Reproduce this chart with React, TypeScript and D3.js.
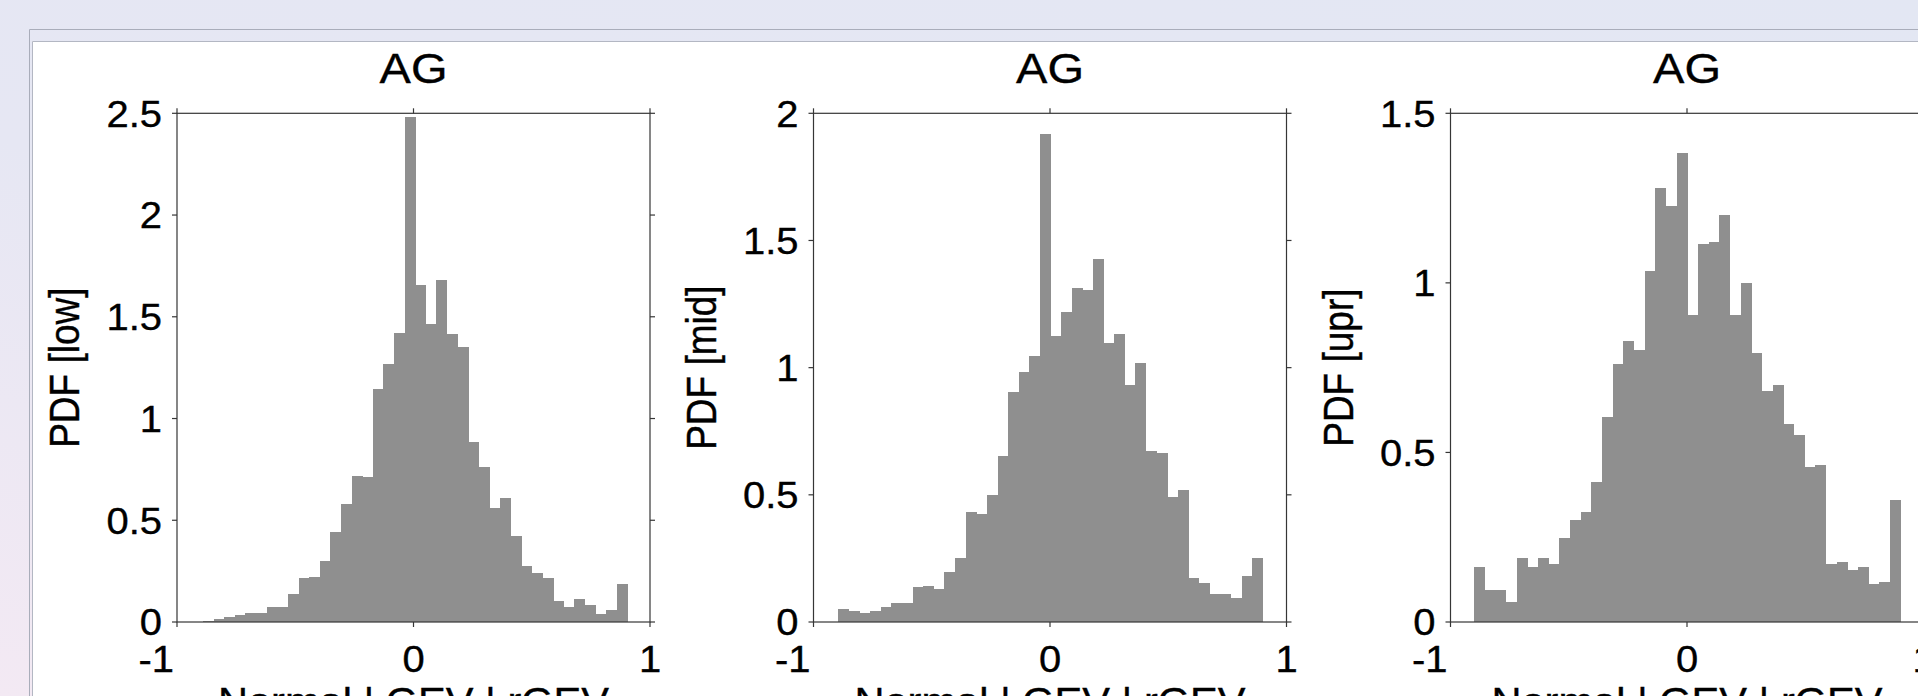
import React from "react";
import * as d3 from "d3";

// ---------- data ----------
const TITLES = ["AG", "AG", "AG"];
const Y_LABELS = ["PDF [low]", "PDF [mid]", "PDF [upr]"];
const X_LABEL = "Normal | GEV | rGEV";
const X_TICKS = [-1, 0, 1];
const Y_TICKS_LOW = [0, 0.5, 1, 1.5, 2, 2.5];
const Y_TICKS_MID = [0, 0.5, 1, 1.5, 2];
const Y_TICKS_UPR = [0, 0.5, 1, 1.5];
const Y_MAX = [2.5, 2, 1.5];
// histogram bin range (first edge, last edge) per panel, 40 bins each
const BIN_RANGE_LOW = [-0.89, 0.905];
const BIN_RANGE_MID = [-0.895, 0.9];
const BIN_RANGE_UPR = [-0.9, 0.904];

const PDF_LOW = [
  0.005, 0.014, 0.026, 0.033, 0.042, 0.042, 0.075, 0.075, 0.139, 0.216,
  0.223, 0.298, 0.44, 0.579, 0.718, 0.711, 1.144, 1.267, 1.421, 2.482,
  1.658, 1.465, 1.682, 1.414, 1.353, 0.884, 0.761, 0.558, 0.607, 0.425,
  0.277, 0.242, 0.216, 0.102, 0.075, 0.112, 0.084, 0.04, 0.06, 0.188,
];
const PDF_MID = [
  0.052, 0.042, 0.034, 0.042, 0.058, 0.076, 0.076, 0.139, 0.143, 0.129,
  0.197, 0.251, 0.431, 0.424, 0.501, 0.654, 0.905, 0.982, 1.046, 1.919,
  1.123, 1.218, 1.314, 1.305, 1.426, 1.098, 1.131, 0.933, 1.02, 0.674,
  0.664, 0.491, 0.519, 0.173, 0.154, 0.111, 0.111, 0.095, 0.181, 0.251,
];
const PDF_UPR = [
  0.163, 0.094, 0.094, 0.059, 0.189, 0.163, 0.189, 0.171, 0.249, 0.3,
  0.325, 0.414, 0.604, 0.76, 0.829, 0.802, 1.036, 1.279, 1.226, 1.382,
  0.906, 1.115, 1.121, 1.201, 0.906, 1.0, 0.794, 0.68, 0.699, 0.585,
  0.551, 0.456, 0.464, 0.171, 0.178, 0.154, 0.163, 0.111, 0.119, 0.36,
];

const SERIES = [PDF_LOW, PDF_MID, PDF_UPR];
const Y_TICKS = [Y_TICKS_LOW, Y_TICKS_MID, Y_TICKS_UPR];
const BIN_RANGES = [BIN_RANGE_LOW, BIN_RANGE_MID, BIN_RANGE_UPR];

// ---------- layout ----------
const W = 1918;
const H = 696;
const PANEL_LEFTS = [177, 813.5, 1450.5];
const PANEL_W = 473;
const TOP = 113.3;
const BOTTOM = 622;
const FONT = "'Liberation Sans', Arial, Helvetica, sans-serif";
const AXIS_COLOR = "#363636";
const BAR_COLOR = "#8f8f8f";
const TICK = 5;

function SText({ x, y, sx = 1.08, rotate = 0, anchor = "middle", size, children }) {
  return (
    <g transform={`translate(${x},${y}) scale(${sx},1) rotate(${rotate})`}>
      <text
        x={0}
        y={0}
        textAnchor={anchor}
        fontFamily={FONT}
        fontSize={size}
        fill="#000"
        stroke="#000"
        strokeWidth={0.35}
      >
        {children}
      </text>
    </g>
  );
}

function fmt(v) {
  return String(v);
}

function Panel({ idx }) {
  const left = PANEL_LEFTS[idx];
  const right = left + PANEL_W;
  const x = d3.scaleLinear().domain([-1, 1]).range([left, right]);
  const y = d3.scaleLinear().domain([0, Y_MAX[idx]]).range([BOTTOM, TOP]);
  const values = SERIES[idx];
  const [b0, b1] = BIN_RANGES[idx];
  const bw = (b1 - b0) / values.length;
  const cx = (left + right) / 2;
  const cy = (TOP + BOTTOM) / 2;

  return (
    <g>
      {/* bars */}
      <g shapeRendering="crispEdges">
        {values.map((v, i) => {
          const x0 = x(b0 + i * bw);
          const x1 = x(b0 + (i + 1) * bw);
          return (
            <rect
              key={i}
              x={x0}
              y={y(v)}
              width={x1 - x0 + 0.3}
              height={BOTTOM - y(v)}
              fill={BAR_COLOR}
            />
          );
        })}
      </g>
      {/* box */}
      <rect
        x={left}
        y={TOP}
        width={right - left}
        height={BOTTOM - TOP}
        fill="none"
        stroke={AXIS_COLOR}
        strokeWidth={1.2}
      />
      {/* y ticks both sides, outward */}
      {Y_TICKS[idx].map((t) => (
        <g key={"yt" + t}>
          <line x1={left - TICK} x2={left} y1={y(t)} y2={y(t)} stroke={AXIS_COLOR} strokeWidth={1.2} />
          <line x1={right} x2={right + TICK} y1={y(t)} y2={y(t)} stroke={AXIS_COLOR} strokeWidth={1.2} />
          <SText x={left - 15} y={y(t) + 0.358 * 37} anchor="end" size={37}>
            {fmt(t)}
          </SText>
        </g>
      ))}
      {/* x ticks both sides, outward */}
      {X_TICKS.map((t) => (
        <g key={"xt" + t}>
          <line x1={x(t)} x2={x(t)} y1={BOTTOM} y2={BOTTOM + TICK} stroke={AXIS_COLOR} strokeWidth={1.2} />
          <line x1={x(t)} x2={x(t)} y1={TOP - TICK} y2={TOP} stroke={AXIS_COLOR} strokeWidth={1.2} />
          {t < 0 ? (
            <SText x={x(t) - 3} y={672} anchor="end" size={37}>
              {fmt(t)}
            </SText>
          ) : (
            <SText x={x(t)} y={672} anchor="middle" size={37}>
              {fmt(t)}
            </SText>
          )}
        </g>
      ))}
      {/* title */}
      <SText x={cx} y={82.6} anchor="middle" size={42} sx={1.12}>
        {TITLES[idx]}
      </SText>
      {/* y label */}
      <SText x={left - 97.7} y={cy} anchor="middle" size={37} rotate={-90} sx={1.15}>
        {Y_LABELS[idx]}
      </SText>
      {/* x label */}
      <SText x={cx} y={714.5} anchor="middle" size={38.5} sx={1.08}>
        {X_LABEL}
      </SText>
    </g>
  );
}

export default function App() {
  return (
    <svg
      width={W}
      height={H}
      viewBox={`0 0 ${W} ${H}`}
      style={{ position: "absolute", left: 0, top: 0, display: "block" }}
    >
      <defs>
        <linearGradient id="bg" x1="1" y1="0" x2="0" y2="1">
          <stop offset="0" stopColor="#e3e7f3" />
          <stop offset="0.6" stopColor="#e6e7f3" />
          <stop offset="1" stopColor="#f3e9f3" />
        </linearGradient>
      </defs>
      <rect x={0} y={0} width={W} height={H} fill="url(#bg)" />
      <line x1={29.5} y1={29.5} x2={W} y2={29.5} stroke="#a9adba" strokeWidth={1} />
      <line x1={29.5} y1={29.5} x2={29.5} y2={H} stroke="#a9adba" strokeWidth={1} />
      <rect x={32} y={41} width={W - 32} height={H - 41} fill="#ffffff" />
      <line x1={32.5} y1={41.5} x2={W} y2={41.5} stroke="#b3b7c3" strokeWidth={1} />
      <line x1={32.5} y1={41.5} x2={32.5} y2={H} stroke="#b3b7c3" strokeWidth={1} />
      {[0, 1, 2].map((i) => (
        <Panel key={i} idx={i} />
      ))}
    </svg>
  );
}
